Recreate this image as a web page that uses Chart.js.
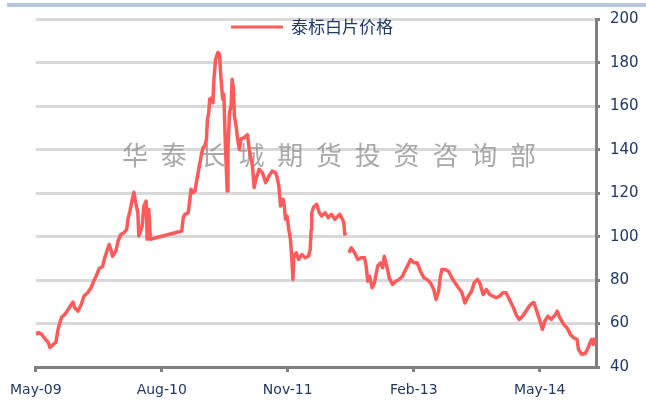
<!DOCTYPE html>
<html>
<head>
<meta charset="utf-8">
<script src="https://cdn.jsdelivr.net/npm/chart.js@4.4.1/dist/chart.umd.min.js"></script>
<style>
  html, body { margin: 0; padding: 0; background: #ffffff; }
  #wrap { width: 646px; height: 412px; position: relative; }
</style>
</head>
<body>
<div id="wrap"><canvas id="c" width="646" height="412"></canvas></div>
<script>
// ---- data (x = months since May-2009) ----
const seriesName = '泰标白片价格';
const watermarkText = '华泰长城期货投资咨询部';
const tickMonths = [0, 15, 30, 45, 60];
const tickLabels = ['May-09', 'Aug-10', 'Nov-11', 'Feb-13', 'May-14'];
const yTicks = [40, 60, 80, 100, 120, 140, 160, 180, 200];

const months = [
  0, 0.32, 0.71, 1.09, 1.49, 1.68, 2.08, 2.39, 2.59, 2.74,
  3.06, 3.45, 3.85, 4.24, 4.44, 4.62, 5.02, 5.41, 5.73, 6.2,
  6.59, 6.98, 7.18, 7.56, 7.96, 8.15, 8.47, 8.74, 8.94, 9.14,
  9.53, 9.8, 10.12, 10.51, 10.82, 10.98, 11.21, 11.49, 11.68, 11.88,
  12.15, 12.27, 12.67, 12.86, 13.14, 13.26, 13.45, 13.65, 17.38, 17.56,
  17.76, 18.15, 18.35, 18.47, 18.74, 18.94, 19.33, 19.73, 19.92, 20.12,
  20.32, 20.44, 20.59, 20.71, 20.98, 21.09, 21.21, 21.41, 21.68, 21.88,
  22, 22.15, 22.27, 22.39, 22.55, 22.79, 22.88, 23, 23.06, 23.26,
  23.38, 23.53, 23.65, 23.85, 24.04, 24.24, 24.44, 24.82, 25.21, 25.41,
  25.8, 26, 26.2, 26.59, 26.98, 27.38, 27.76, 28.15, 28.55, 28.74,
  28.94, 29.14, 29.45, 29.61, 29.73, 29.92, 30.12, 30.32, 30.44, 30.62,
  30.71, 31.02, 31.29, 31.68, 32.08, 32.47, 32.67, 32.79, 32.86, 33.06,
  33.45, 33.76, 34.04, 34.44, 34.82, 35.21, 35.61, 36, 36.2, 36.51,
  36.67, 36.79, 36.98, 37.15, 37.29, 37.56, 37.96, 38.35, 38.74, 39.14,
  39.33, 39.53, 39.73, 40.04, 40.32, 40.51, 40.71, 41.09, 41.29, 41.49,
  41.68, 41.88, 42.08, 42.47, 42.86, 43.26, 43.65, 44.04, 44.44, 44.62,
  45.02, 45.41, 45.8, 46.2, 46.59, 46.98, 47.38, 47.65, 47.96, 48.15,
  48.35, 48.74, 49.14, 49.53, 49.92, 50.32, 50.71, 51.09, 51.49, 51.88,
  52.2, 52.59, 52.86, 53.26, 53.65, 54.04, 54.44, 54.82, 55.21, 55.61,
  56, 56.39, 56.79, 57.18, 57.56, 57.96, 58.35, 58.74, 59.14, 59.33,
  59.65, 60.04, 60.32, 60.59, 60.98, 61.38, 61.88, 62.08, 62.39, 62.86,
  63.26, 63.65, 64.04, 64.44, 64.62, 65.02, 65.41, 65.68, 66, 66.2,
  66.39, 66.59
];
const prices = [
  55, 55.9, 55, 53, 51.3, 49, 50.4, 51.3, 56, 58.8,
  62.8, 64.2, 66.5, 68.8, 69.9, 67.4, 65.7, 68.8, 72.6, 74.3,
  76.6, 80.3, 81.8, 85.4, 86.3, 89.5, 93.4, 96.4, 94.1, 91,
  93.4, 98, 101, 101.8, 103.4, 108.3, 111.8, 117.2, 120.5, 115.8,
  111.2, 100.3, 105, 114, 116.4, 98.8, 112.6, 98.8, 102.6, 108.8,
  110.3, 111, 117.2, 121.8, 120.3, 121, 129.5, 138, 141, 141.7,
  144.8, 154, 157, 163.3, 164, 161.7, 172.5, 181.7, 184.8, 184,
  175.6, 167.9, 163.3, 165.6, 144.8, 121, 140, 151, 157, 160.2,
  172.5, 167.9, 155.6, 151, 144.8, 140.2, 145, 145.6, 147, 140.2,
  132.5, 122.6, 126.4, 131, 129.5, 124.9, 127.9, 130.2, 129.5, 127.2,
  123.3, 114.1, 117.2, 113.4, 108, 109.5, 103.4, 98.8, 92.6, 80.3,
  91, 92.6, 89.5, 91.8, 90.3, 91, 94.1, 103.4, 111, 113.4,
  114.9, 111, 109.5, 111, 108.8, 110.3, 108, 109.5, 110.3, 108,
  106.5, 101.1, 101.8, null, 92.6, 94.9, 92.6, 89.5, 90.3, 90.3,
  86.5, 79.5, 81.8, 76.5, 78.8, 82.6, 86.5, 88, 85.7, 91,
  88, 84.9, 81.1, 78, 79.5, 80.3, 81.8, 84.9, 88, 89.5,
  88, 88, 84.1, 81.1, 80.3, 78.8, 75.7, 71.1, 74.9, 81.1,
  84.9, 84.9, 84.1, 81.1, 78.8, 76.5, 74.5, 69.5, 72.6, 74.9,
  78.8, 80.3, 78.8, 73.4, 75.7, 73.4, 72.6, 71.9, 72.6, 74.2,
  74.2, 71.1, 68, 64.2, 61.9, 63.4, 65.7, 68, 69.6, 69.6,
  65.7, 61.1, 57.3, 61.1, 63.4, 61.9, 64.2, 65.7, 62.7, 59.6,
  58, 55, 53.5, 52.7, 48.1, 45.8, 46.2, 48.1, 51.2, 52.7,
  50.4, 53.5
];

const points = months.map((m, i) => ({ x: m, y: prices[i] }));

const NAVY = '#1F3864';
const RED = '#FF5B5B';
const AXIS = '#808080';

const decorPlugin = {
  id: 'decor',
  beforeDraw(chart) {
    const ctx = chart.ctx;
    ctx.save();
    ctx.fillStyle = '#B4C7DC';
    ctx.fillRect(7, 3, 639, 4);
    ctx.restore();
  },
  beforeDatasetsDraw(chart) {
    const ctx = chart.ctx;
    ctx.save();
    ctx.font = '26px "Noto Sans CJK SC"';
    ctx.fillStyle = 'rgba(140,140,140,0.75)';
    ctx.textAlign = 'center';
    ctx.textBaseline = 'middle';
    const chars = Array.from(watermarkText);
    chars.forEach((ch, i) => ctx.fillText(ch, 135 + i * 38.8, 155));
    ctx.restore();
  },
  afterDraw(chart) {
    const ctx = chart.ctx;
    ctx.save();
    ctx.strokeStyle = RED;
    ctx.lineWidth = 3;
    ctx.beginPath();
    ctx.moveTo(231, 27);
    ctx.lineTo(283, 27);
    ctx.stroke();
    ctx.font = '17px "Noto Sans CJK SC"';
    ctx.fillStyle = NAVY;
    ctx.textAlign = 'left';
    ctx.textBaseline = 'middle';
    ctx.fillText(seriesName, 291, 27);
    ctx.restore();
  }
};

new Chart(document.getElementById('c'), {
  type: 'line',
  data: {
    datasets: [{
      label: seriesName,
      data: points,
      borderColor: RED,
      backgroundColor: RED,
      borderWidth: 3.5,
      pointRadius: 0,
      tension: 0,
      spanGaps: false,
      borderJoinStyle: 'round'
    }]
  },
  options: {
    responsive: false,
    animation: false,
    devicePixelRatio: 1,
    layout: { autoPadding: false, padding: { top: 19.5, left: 29, right: 0, bottom: 0 } },
    plugins: { legend: { display: false }, tooltip: { enabled: false } },
    scales: {
      x: {
        type: 'linear',
        position: 'bottom',
        min: 0,
        max: 66.7,
        afterBuildTicks: (axis) => { axis.ticks = tickMonths.map(v => ({ value: v })); },
        afterFit: (scale) => { scale.height = 45; },
        ticks: {
          autoSkip: false,
          maxRotation: 0,
          color: NAVY,
          font: { family: 'DejaVu Sans', size: 14 },
          padding: 10,
          callback: (v) => { const i = tickMonths.indexOf(v); return i >= 0 ? tickLabels[i] : ''; }
        },
        grid: { drawOnChartArea: false, drawTicks: true, tickLength: 5, tickColor: AXIS, tickWidth: 3 },
        border: { display: true, color: AXIS, width: 3 }
      },
      y: {
        position: 'right',
        min: 40,
        max: 200,
        afterBuildTicks: (axis) => { axis.ticks = yTicks.map(v => ({ value: v })); },
        afterFit: (scale) => { scale.width = 50; },
        ticks: {
          color: NAVY,
          font: { family: 'DejaVu Sans', size: 15 },
          padding: 10
        },
        grid: { color: '#D9D9D9', lineWidth: 3, drawTicks: true, tickLength: 4, tickColor: AXIS, tickWidth: 3 },
        border: { display: true, color: AXIS, width: 3 }
      }
    }
  },
  plugins: [decorPlugin]
});
</script>
</body>
</html>
